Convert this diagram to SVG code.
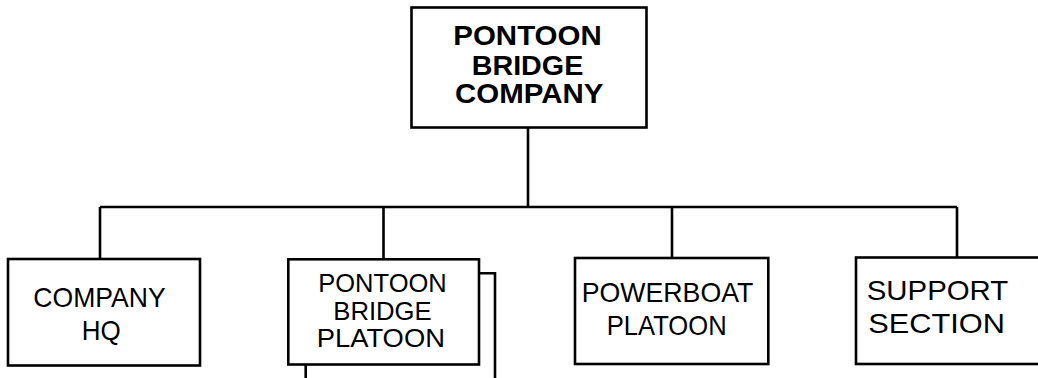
<svg xmlns="http://www.w3.org/2000/svg" width="1038" height="378" viewBox="0 0 1038 378">
<style>
.box{fill:#fff;stroke:#000;stroke-width:2.6}
.ln{fill:none;stroke:#000;stroke-width:2.6}
text{font-family:"Liberation Sans",Arial,sans-serif;fill:#000;font-size:28px}
.b{font-weight:bold;font-size:28px}
.s{font-size:25px}
</style>
<rect width="1038" height="378" fill="#fff"/>
<g id="connectors">
<path class="ln" d="M528 128V207M100 207H957M100 207V259M383.5 207V259M672 207V258M957 207V258"/>
</g>
<g id="n-company">
<rect class="box" x="411.5" y="7.5" width="235" height="120"/>
<text class="b" x="453.3" y="45" textLength="148.4" lengthAdjust="spacingAndGlyphs">PONTOON</text>
<text class="b" x="471.7" y="75" textLength="111.6" lengthAdjust="spacingAndGlyphs">BRIDGE</text>
<text class="b" x="455" y="103.3" textLength="148.3" lengthAdjust="spacingAndGlyphs">COMPANY</text>
</g>
<g id="n-hq">
<rect class="box" x="8" y="259" width="192" height="106.5"/>
<text x="33.3" y="306.7" textLength="132.4" lengthAdjust="spacingAndGlyphs">COMPANY</text>
<text x="81.7" y="339.5" textLength="39" lengthAdjust="spacingAndGlyphs">HQ</text>
</g>
<g id="n-pbp">
<path class="ln" d="M479 273.3H495V378M305.7 364.5V378"/>
<rect class="box" x="288.3" y="259.3" width="190.7" height="105.2"/>
<text class="s" x="318.3" y="292.3" textLength="128.4" lengthAdjust="spacingAndGlyphs">PONTOON</text>
<text class="s" x="333.3" y="319.5" textLength="98.4" lengthAdjust="spacingAndGlyphs">BRIDGE</text>
<text class="s" x="316.7" y="346.7" textLength="128.3" lengthAdjust="spacingAndGlyphs">PLATOON</text>
</g>
<g id="n-powerboat">
<rect class="box" x="575" y="258" width="193.3" height="106"/>
<text x="581.7" y="301.7" textLength="171.6" lengthAdjust="spacingAndGlyphs">POWERBOAT</text>
<text x="606.7" y="335" textLength="120" lengthAdjust="spacingAndGlyphs">PLATOON</text>
</g>
<g id="n-support">
<rect class="box" x="856" y="257.5" width="200" height="106.5"/>
<text x="866.7" y="300" textLength="141.6" lengthAdjust="spacingAndGlyphs">SUPPORT</text>
<text x="868.3" y="333" textLength="136.7" lengthAdjust="spacingAndGlyphs">SECTION</text>
</g>
</svg>
